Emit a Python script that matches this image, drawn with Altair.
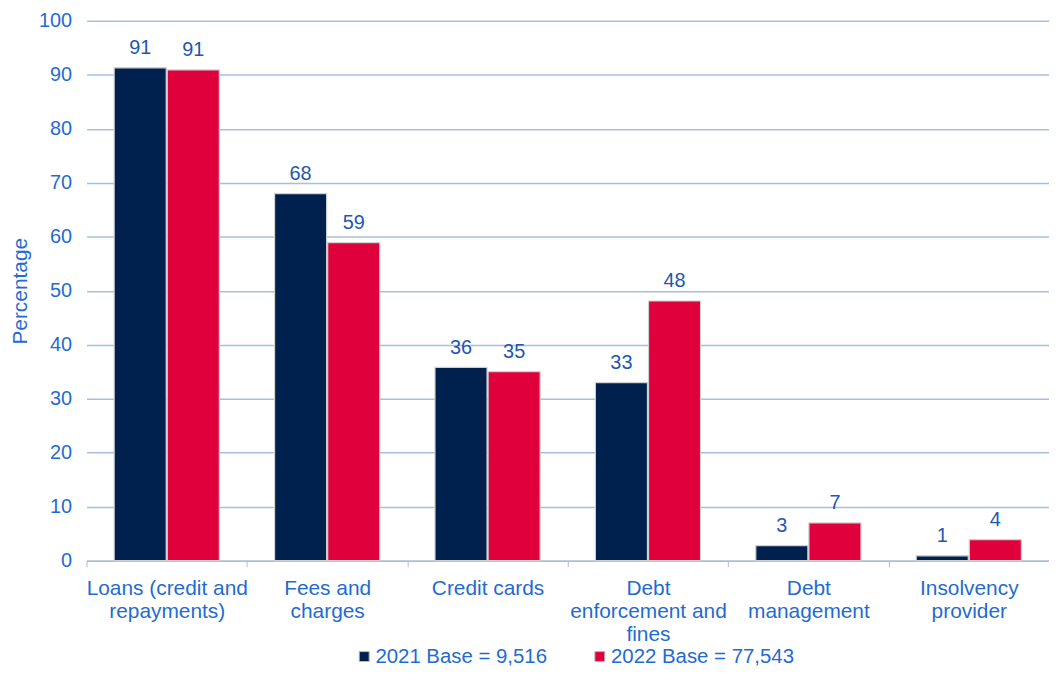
import altair as alt
import pandas as pd

categories = ["Loans (credit and\nrepayments)", "Fees and\ncharges", "Credit cards",
              "Debt\nenforcement and\nfines", "Debt\nmanagement", "Insolvency\nprovider"]
series = ["2021 Base = 9,516", "2022 Base = 77,543"]
values_2021 = [91.3, 68.0, 35.8, 33.0, 2.8, 0.9]
values_2022 = [90.9, 58.9, 35.0, 48.1, 7.0, 3.9]
labels_2021 = [91, 68, 36, 33, 3, 1]
labels_2022 = [91, 59, 35, 48, 7, 4]
colors = ["#00204E", "#E0003C"]

rows = []
for c, v, l in zip(categories, values_2021, labels_2021):
    rows.append({"cat": c, "series": series[0], "value": v, "label": str(l)})
for c, v, l in zip(categories, values_2022, labels_2022):
    rows.append({"cat": c, "series": series[1], "value": v, "label": str(l)})
df = pd.DataFrame(rows)

FONT = "Liberation Sans"
FS = 20
AXIS_BLUE = "#1F6BD2"
LABEL_BLUE = "#1F57B0"
GRID = "#A9BEDF"

x = alt.X("cat:N", sort=categories, title=None,
          scale=alt.Scale(paddingInner=0, paddingOuter=0),
          axis=alt.Axis(labelExpr="split(datum.label, '\\n')", labelAngle=0,
                        labelFont=FONT, labelFontSize=21, labelColor=AXIS_BLUE,
                        labelLineHeight=23, labelPadding=11, labelBaseline="top",
                        labelLimit=300,
                        tickBand="extent", tickColor=GRID, tickSize=6,
                        domainColor=GRID, domainWidth=1.5, grid=False))
xo = alt.XOffset("series:N", sort=series,
                 scale=alt.Scale(paddingInner=0.02, paddingOuter=0.52))
y = alt.Y("value:Q", title="Percentage",
          scale=alt.Scale(domain=[0, 100], nice=False),
          axis=alt.Axis(values=list(range(0, 101, 10)), labelFont=FONT, labelFontSize=FS,
                        labelColor=AXIS_BLUE, titleFont=FONT, titleFontSize=21,
                        titleColor=AXIS_BLUE, titleFontWeight="normal", titlePadding=8,
                        domain=False, ticks=False, labelPadding=15,
                        gridColor=GRID, gridWidth=1.5))

bars = alt.Chart(df).mark_bar(stroke="#D0D0D0", strokeWidth=1.2).encode(
    x=x, xOffset=xo, y=y,
    color=alt.Color("series:N", sort=series, title=None,
                    scale=alt.Scale(domain=series, range=colors),
                    legend=alt.Legend(orient="none", legendX=269, legendY=629,
                                      direction="horizontal", symbolType="square",
                                      symbolSize=100, symbolStrokeColor="#BBBBBB",
                                      symbolStrokeWidth=1, labelFont=FONT,
                                      labelFontSize=20.5, labelColor=AXIS_BLUE,
                                      labelLimit=400,
                                      columnPadding=42, labelOffset=1, symbolOpacity=1)),
)

text = alt.Chart(df).mark_text(baseline="bottom", dy=-10, font=FONT, fontSize=FS,
                               color=LABEL_BLUE).encode(
    x=x, xOffset=xo, y=y, text="label:N")

chart = (bars + text).properties(
    width=968, height=543,
    autosize=alt.AutoSizeParams(type="none"),
    padding={"left": 79, "top": 11, "right": 0, "bottom": 105},
).configure_view(stroke=None).configure_axis(gridDash=[])

chart.save("out.html", embed_options={"renderer": "svg", "actions": False})
